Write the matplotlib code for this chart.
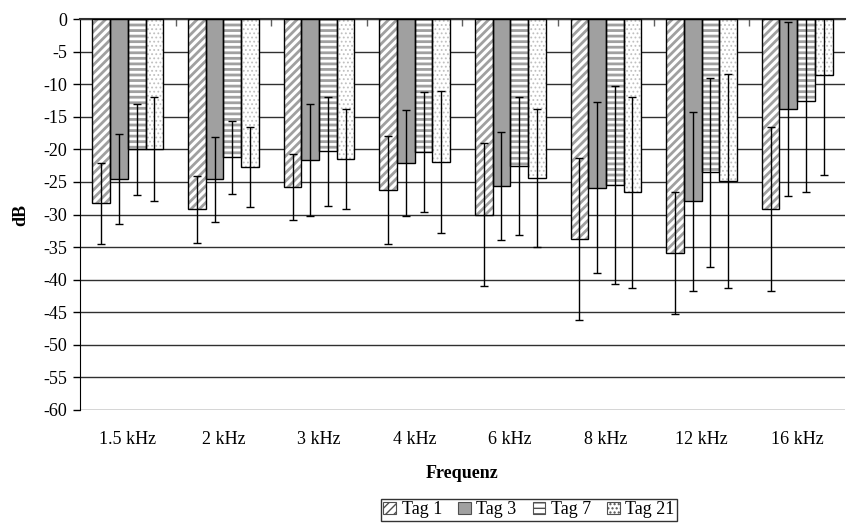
import numpy as np
import matplotlib.pyplot as plt
from matplotlib.patches import Patch

plt.rcParams['font.family'] = ['Liberation Serif', 'DejaVu Serif']
plt.rcParams['axes.unicode_minus'] = False

freqs = ["1.5 kHz", "2 kHz", "3 kHz", "4 kHz", "6 kHz", "8 kHz", "12 kHz", "16 kHz"]
series = ["Tag 1", "Tag 3", "Tag 7", "Tag 21"]

tag1 = [-28.3, -29.2, -25.8, -26.3, -30.0, -33.8, -35.9, -29.2]
tag3 = [-24.6, -24.6, -21.6, -22.1, -25.6, -25.9, -28.0, -13.8]
tag7 = [-20.0, -21.2, -20.3, -20.4, -22.5, -25.5, -23.5, -12.6]
tag21 = [-19.9, -22.7, -21.5, -21.9, -24.4, -26.6, -24.9, -8.6]

sd1 = [6.2, 5.1, 5.1, 8.3, 11.0, 12.4, 9.3, 12.6]
sd3 = [6.9, 6.5, 8.6, 8.1, 8.3, 13.1, 13.7, 13.3]
sd7 = [7.0, 5.6, 8.4, 9.2, 10.6, 15.2, 14.5, 13.9]
sd21 = [8.0, 6.2, 7.7, 10.9, 10.6, 14.7, 16.4, 15.3]

values = [tag1, tag3, tag7, tag21]
errors = [sd1, sd3, sd7, sd21]

# fill, hatch, hatch colour, hatch width per series
styles = [
    ("white", "////", "#a0a0a0", 2.0),
    ("#a0a0a0", "", "#a0a0a0", 2.0),
    ("white", "---", "#a0a0a0", 2.0),
    ("white", "....", "#c0c0c0", 0.8),
]

fig = plt.figure(figsize=(8.48, 5.23), dpi=100)
ax = fig.add_axes([80 / 848, 1 - 410 / 523, 765 / 848, 391 / 523])

x = np.arange(len(freqs))
w = 0.185
for i, (vals, err) in enumerate(zip(values, errors)):
    pos = x + (i - 1.5) * w
    face, hatch, hcol, hlw = styles[i]
    with plt.rc_context({'hatch.linewidth': hlw}):
        ax.bar(pos, vals, w, color=face, hatch=hatch, edgecolor=hcol, linewidth=0, zorder=2)
    ax.bar(pos, vals, w, fill=False, edgecolor="black", linewidth=1, zorder=3)
    ax.errorbar(pos, vals, yerr=err, fmt="none", ecolor="black", elinewidth=1,
                capsize=3, capthick=1, zorder=4, clip_on=True)

ax.set_xlim(-0.5, len(freqs) - 0.5)
ax.set_ylim(-60, 0)
ax.set_yticks(np.arange(-60, 1, 5))
ax.yaxis.grid(True, color="#303030", linewidth=1)
ax.set_axisbelow(True)

ax.set_xticks(x)
ax.set_xticklabels(freqs, fontsize=13)
ax.tick_params(axis="x", length=0, pad=15)
ax.tick_params(axis="y", labelsize=13, length=5, width=1, color="black", pad=4)

for s in ["right", "bottom"]:
    ax.spines[s].set_visible(False)
ax.spines["left"].set_color("black")
ax.spines["top"].set_color("#303030")
ax.spines["top"].set_linewidth(1.5)

# category ticks at the zero line between groups
top = ax.secondary_xaxis("top")
top.set_xticks(np.arange(0.5, len(freqs) - 0.5, 1))
top.set_xticklabels([])
top.tick_params(direction="in", length=5, width=1, color="#606060")
top.spines["top"].set_visible(False)

ax.set_ylabel("dB", fontsize=13, fontweight="bold", labelpad=10)
ax.set_xlabel("Frequenz", fontsize=13, fontweight="bold", labelpad=12)

handles = []
for face, hatch, hcol, hlw in styles:
    with plt.rc_context({'hatch.linewidth': hlw}):
        handles.append(Patch(facecolor=face, hatch=hatch, edgecolor="#505050", linewidth=0.8))
leg = fig.legend(handles, series, loc="lower center", bbox_to_anchor=(529 / 848, 2 / 523),
                 ncol=4, frameon=True, fancybox=False, fontsize=13, handlelength=0.7,
                 handleheight=0.7, handletextpad=0.3, columnspacing=0.9,
                 borderpad=0.15, borderaxespad=0, edgecolor="black")
leg.get_frame().set_linewidth(1)

fig.savefig("out.png", dpi=100)
